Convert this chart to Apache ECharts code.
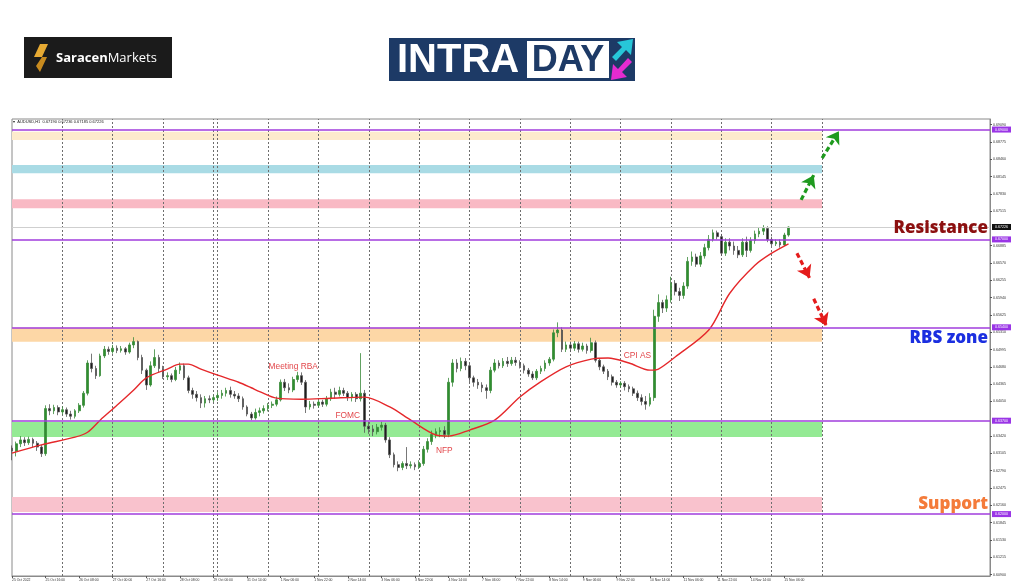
<!DOCTYPE html>
<html><head><meta charset="utf-8">
<script src="https://cdn.jsdelivr.net/npm/echarts@6/dist/echarts.min.js"></script>
<style>html,body{margin:0;padding:0;background:#fff}#c{width:1024px;height:587px}</style>
</head><body><div id="c"></div>
<script>
// ---------- DATA ----------
const dayNames = ['25 Oct','26 Oct','27 Oct','28 Oct','29 Oct','31 Oct','1 Nov','2 Nov','3 Nov','4 Nov',
  '7 Nov','8 Nov','9 Nov','10 Nov','11 Nov','14 Nov','15 Nov','16 Nov','17 Nov','18 Nov','21 Nov'];
const dayBars = [12,12,12,12,1,12,12,12,12,12,12,12,12,12,12,12,12,12,12,12,5];
const hourLabels = ['00:00','02:00','04:00','06:00','08:00','10:00','12:00','14:00','16:00','18:00','20:00','22:00'];
const firstLabel = '25 Oct 2022';
const headerText = '\u25BE  AUDUSD,H1  0.67190 0.67236 0.67185 0.67226';

// [open, close, low, high], 2-hour bars
const candles = [
[.6320,.6315,.6298,.6325],[.6315,.6328,.6305,.6332],[.6328,.6335,.6322,.6342],[.6335,.6330,.6324,.6340],
[.6330,.6336,.6326,.6341],[.6336,.6329,.6322,.6339],[.6329,.6322,.6315,.6333],[.6322,.6310,.6304,.6326],
[.6310,.6392,.6306,.6398],[.6392,.6388,.6380,.6400],[.6388,.6394,.6382,.6399],[.6394,.6386,.6380,.6398],
[.6386,.6390,.6381,.6396],[.6390,.6382,.6377,.6394],[.6382,.6378,.6372,.6388],[.6378,.6388,.6374,.6391],
[.6388,.6398,.6384,.6402],[.6398,.6420,.6394,.6424],[.6420,.6475,.6416,.6480],[.6475,.6465,.6458,.6492],
[.6465,.6452,.6446,.6470],[.6452,.6488,.6450,.6492],[.6488,.6500,.6484,.6506],[.6500,.6496,.6490,.6505],
[.6496,.6502,.6492,.6508],[.6502,.6498,.6493,.6507],[.6498,.6501,.6494,.6506],[.6501,.6495,.6490,.6504],
[.6495,.6508,.6492,.6512],[.6508,.6514,.6502,.6522],[.6514,.6485,.6480,.6516],[.6485,.6462,.6455,.6490],
[.6462,.6435,.6426,.6465],[.6435,.6470,.6432,.6478],[.6470,.6485,.6466,.6500],[.6485,.6465,.6458,.6490],
[.6465,.6450,.6446,.6470],[.6450,.6452,.6444,.6458],[.6452,.6445,.6440,.6456],[.6445,.6462,.6442,.6468],
[.6462,.6470,.6455,.6476],[.6470,.6448,.6444,.6474],[.6448,.6425,.6420,.6452],[.6425,.6418,.6410,.6430],
[.6418,.6412,.6405,.6424],[.6412,.6402,.6393,.6418],[.6402,.6410,.6394,.6415],[.6410,.6408,.6402,.6416],
[.6408,.6412,.6404,.6416],[.6412,.6416,.6406,.6422],[.6416,.6420,.6410,.6426],[.6420,.6425,.6414,.6430],
[.6425,.6418,.6412,.6432],[.6418,.6415,.6410,.6424],[.6415,.6410,.6404,.6420],[.6410,.6395,.6390,.6414],
[.6395,.6382,.6378,.6398],[.6382,.6375,.6371,.6386],[.6375,.6385,.6372,.6392],[.6385,.6388,.6378,.6394],
[.6388,.6392,.6383,.6398],[.6392,.6398,.6387,.6402],[.6398,.6400,.6393,.6405],[.6400,.6408,.6396,.6414],
[.6408,.6440,.6405,.6445],[.6440,.6430,.6424,.6446],[.6430,.6426,.6420,.6438],[.6426,.6445,.6422,.6450],
[.6445,.6452,.6440,.6459],[.6452,.6440,.6435,.6458],[.6440,.6395,.6384,.6444],[.6395,.6400,.6390,.6406],
[.6400,.6398,.6392,.6405],[.6398,.6404,.6394,.6408],[.6404,.6400,.6395,.6408],[.6400,.6410,.6396,.6415],
[.6410,.6422,.6406,.6428],[.6422,.6418,.6410,.6430],[.6418,.6425,.6414,.6432],[.6425,.6420,.6415,.6430],
[.6420,.6412,.6406,.6424],[.6412,.6418,.6405,.6422],[.6418,.6410,.6404,.6422],[.6410,.6420,.6405,.6493],
[.6420,.6360,.6348,.6426],[.6360,.6355,.6346,.6368],[.6355,.6350,.6342,.6362],[.6350,.6358,.6345,.6364],
[.6358,.6362,.6352,.6368],[.6362,.6335,.6330,.6366],[.6335,.6308,.6302,.6340],[.6308,.6290,.6285,.6312],
[.6290,.6285,.6278,.6296],[.6285,.6292,.6280,.6296],[.6292,.6288,.6282,.6322],[.6288,.6290,.6283,.6296],
[.6290,.6286,.6280,.6294],[.6286,.6292,.6282,.6298],[.6292,.6318,.6288,.6324],[.6318,.6332,.6312,.6338],
[.6332,.6345,.6326,.6352],[.6345,.6350,.6338,.6356],[.6350,.6352,.6340,.6358],[.6352,.6345,.6338,.6360],
[.6345,.6440,.6340,.6448],[.6440,.6475,.6432,.6482],[.6475,.6465,.6458,.6482],[.6465,.6478,.6460,.6485],
[.6478,.6470,.6462,.6484],[.6470,.6448,.6440,.6474],[.6448,.6440,.6432,.6452],[.6440,.6435,.6428,.6446],
[.6435,.6430,.6422,.6440],[.6430,.6425,.6410,.6436],[.6425,.6462,.6420,.6468],[.6462,.6475,.6458,.6482],
[.6475,.6470,.6465,.6480],[.6470,.6478,.6466,.6484],[.6478,.6474,.6468,.6486],[.6474,.6480,.6470,.6486],
[.6480,.6476,.6470,.6486],[.6476,.6470,.6465,.6480],[.6470,.6462,.6456,.6474],[.6462,.6455,.6450,.6466],
[.6455,.6448,.6444,.6460],[.6448,.6460,.6444,.6464],[.6460,.6465,.6455,.6470],[.6465,.6475,.6460,.6480],
[.6475,.6482,.6470,.6486],[.6482,.6530,.6478,.6536],[.6530,.6535,.6522,.6549],[.6535,.6500,.6495,.6540],
[.6500,.6508,.6495,.6514],[.6508,.6502,.6495,.6514],[.6502,.6510,.6497,.6515],[.6510,.6500,.6494,.6514],
[.6500,.6506,.6496,.6512],[.6506,.6498,.6492,.6510],[.6498,.6512,.6494,.6521],[.6512,.6480,.6476,.6516],
[.6480,.6468,.6462,.6484],[.6468,.6460,.6455,.6472],[.6460,.6450,.6444,.6464],[.6450,.6440,.6434,.6454],
[.6440,.6435,.6430,.6444],[.6435,.6438,.6430,.6442],[.6438,.6432,.6425,.6442],[.6432,.6428,.6422,.6436],
[.6428,.6420,.6415,.6432],[.6420,.6412,.6406,.6425],[.6412,.6405,.6398,.6418],[.6405,.6400,.6390,.6415],
[.6400,.6412,.6396,.6420],[.6412,.6560,.6406,.6572],[.6560,.6585,.6550,.6600],[.6585,.6575,.6566,.6590],
[.6575,.6590,.6568,.6598],[.6590,.6620,.6585,.6632],[.6620,.6605,.6598,.6626],[.6605,.6598,.6588,.6612],
[.6598,.6615,.6592,.6622],[.6615,.6660,.6610,.6668],[.6660,.6668,.6652,.6678],[.6668,.6655,.6650,.6674],
[.6655,.6670,.6650,.6677],[.6670,.6685,.6665,.6692],[.6685,.6700,.6680,.6708],[.6700,.6712,.6696,.6718],
[.6712,.6705,.6700,.6716],[.6705,.6675,.6670,.6710],[.6675,.6695,.6670,.6702],[.6695,.6688,.6680,.6702],
[.6688,.6680,.6672,.6696],[.6680,.6672,.6666,.6688],[.6672,.6695,.6668,.6702],[.6695,.6680,.6668,.6705],
[.6680,.6698,.6676,.6704],[.6698,.6710,.6692,.6716],[.6710,.6715,.6704,.6722],[.6715,.6720,.6708,.6726],
[.6720,.6700,.6695,.6724],[.6700,.6692,.6688,.6705],[.6692,.6695,.6688,.6700],[.6695,.6690,.6685,.6700],
[.6690,.6708,.6688,.6712],[.6708,.67226,.6705,.67236]
];

// moving average: [bar index, value]
const maPoints = [
[0,.6311],[7,.6326],[15,.6340],[18,.6349],[21,.6371],[25,.6398],[29,.6426],[32,.6448],[37,.6464],
[40,.6473],[42,.6473],[45,.6464],[49,.6453],[54,.6440],[57,.6430],[59,.6423],[63,.6411],[69,.6409],
[76,.6411],[84,.6413],[90,.6395],[95,.6371],[101,.6344],[104,.6342],[109,.6353],[115,.6371],[121,.6413],
[126,.6441],[132,.6468],[138,.6482],[142,.6484],[147,.6475],[152,.6462],[154,.6464],[158,.6486],
[166,.6535],[171,.6602],[177,.6653],[181,.6675],[185,.6692]
];

const levelPrices = [0.69000, 0.67000, 0.65400, 0.63700, 0.62000];
const currentPrice = 0.67226;
const zoneTops    = [0.68962, 0.68355, 0.67731, 0.65390, 0.63677, 0.62310];
const zoneBottoms = [0.68810, 0.68204, 0.67567, 0.65135, 0.63404, 0.62040];
const yTicks = [0.69090,0.68775,0.68460,0.68145,0.67830,0.67515,0.66885,0.66570,0.66255,0.65940,0.65625,
  0.65310,0.64995,0.64680,0.64365,0.64050,0.63420,0.63105,0.62790,0.62475,0.62160,0.61845,0.61530,0.61215,0.60900];
const eventNames = ['Meeting RBA','FOMC','NFP','CPI AS'];
const eventAnchors = [[67,0.6468],[80,0.6380],[103,0.6315],[149,0.6488]];
// projected moves: [fromIndex, fromPrice, toIndex, toPrice]
const upArrows   = [[188,0.6772,191,0.6817],[193,0.6848,197,0.6897]];
const downArrows = [[187,0.6675,190,0.6630],[191,0.6592,194,0.6543]];
const zoneLabels = ['Resistance','RBS zone','Support'];

// ---------- BUILD ----------
const categories = [];
dayNames.forEach((d,k)=>{ for(let h=0;h<dayBars[k];h++) categories.push(d+' '+hourLabels[h]); });
const zoneEnd = categories.indexOf('16 Nov 00:00');
const separators = [];
categories.forEach((c,i)=>{ if(i>0 && i<=zoneEnd && c.endsWith('00:00')) separators.push(i); });
const nBars = candles.length;
const showLbl = (i)=> i % 8 === 0 && i < nBars;

const FONT = '"Liberation Sans", Arial, sans-serif';
const zoneColors = ['#fdebcd','#a9dbe5','#f9b9c4','#fdd7a6','#94ea94','#f9c2cd'];
const arrowStyle = (c)=>({color:c,width:3.2,type:[5,3]});

const chart = echarts.init(document.getElementById('c'), null, {renderer:'canvas'});
const option = {
  animation:false,
  backgroundColor:'#ffffff',
  grid:{left:12,right:34,top:119,bottom:11,show:true,borderColor:'#8a8a8a',borderWidth:1,backgroundColor:'#fff'},
  xAxis:{type:'category',data:categories,boundaryGap:false,
    axisLine:{show:true,lineStyle:{color:'#8a8a8a'}},
    axisTick:{show:true,interval:showLbl,length:2,lineStyle:{color:'#555'}},
    axisLabel:{interval:showLbl,fontSize:3.4,color:'#333',align:'left',margin:3,fontFamily:FONT,
      formatter:(v,i)=> i===0 ? firstLabel : v},
    splitLine:{show:false}},
  yAxis:{type:'value',position:'right',min:0.60873,max:0.69192,
    axisLine:{show:true,lineStyle:{color:'#8a8a8a'}},
    axisTick:{show:true,customValues:yTicks,length:2,lineStyle:{color:'#555'}},
    axisLabel:{customValues:yTicks,formatter:v=>v.toFixed(5),fontSize:3.6,color:'#333',margin:3,fontFamily:FONT},
    splitLine:{show:false}},
  series:[
    {type:'candlestick',name:'AUDUSD',data:candles,barWidth:2.2,z:3,
      itemStyle:{color:'#2f8f2f',color0:'#1e1e1e',borderColor:'#3a8a3a',borderColor0:'#555',borderWidth:0.8},
      markArea:{silent:true,z:1,
        data:zoneTops.map((t,k)=>[{yAxis:t,xAxis:0,itemStyle:{color:zoneColors[k],opacity:1}},{yAxis:zoneBottoms[k],xAxis:zoneEnd}])},
      markLine:{silent:true,z:5,precision:5,symbol:['none','none'],
        lineStyle:{color:'#a03cdc',width:1.5,type:'solid'},
        label:{show:true,position:'end',distance:2,formatter:p=>Number(p.value).toFixed(5),color:'#fff',
          backgroundColor:'#9a35e6',fontSize:3.6,padding:[1,3],fontFamily:FONT},
        data:[{yAxis:currentPrice,lineStyle:{color:'#cfcfcf',width:1},label:{backgroundColor:'#111'}}]
          .concat(levelPrices.map(v=>({yAxis:v})))}
    },
    {type:'line',name:'MA',data:maPoints,symbol:'none',smooth:0.3,z:4,
      lineStyle:{color:'#e5282b',width:1.4},
      markLine:{silent:true,z:2,precision:5,symbol:['none','none'],label:{show:false},
        lineStyle:{color:'#6e6e6e',type:[2,2],width:1},
        data:separators.map(i=>({xAxis:i}))},
      markPoint:{silent:true,z:6,symbol:'circle',symbolSize:1,itemStyle:{color:'rgba(0,0,0,0)'},
        label:{show:true,position:'inside',formatter:p=>p.name,color:'#e2474b',fontSize:8.4,fontFamily:FONT},
        data:eventNames.map((n,k)=>({name:n,coord:eventAnchors[k]}))}
    },
    {type:'line',name:'arrows',data:[],z:6,
      markLine:{silent:true,z:7,precision:5,symbol:['none','arrow'],symbolSize:12,label:{show:false},
        data:upArrows.map(a=>[{coord:[a[0],a[1]],lineStyle:arrowStyle('#1e9a1e'),itemStyle:{color:'#1e9a1e'}},{coord:[a[2],a[3]],lineStyle:arrowStyle('#1e9a1e'),itemStyle:{color:'#1e9a1e'}}])
          .concat(downArrows.map(a=>[{coord:[a[0],a[1]],lineStyle:arrowStyle('#e41b1b'),itemStyle:{color:'#e41b1b'}},{coord:[a[2],a[3]],lineStyle:arrowStyle('#e41b1b'),itemStyle:{color:'#e41b1b'}}]))}
    }
  ],
  graphic:{elements:[
    // Saracen Markets logo
    {type:'rect',z:100,shape:{x:24,y:37,width:148,height:41},style:{fill:'#1b1b1b'}},
    {type:'polygon',z:101,shape:{points:[[40,44],[48,44],[42,57],[34,57]]},style:{fill:'#e6aa33'}},
    {type:'polygon',z:101,shape:{points:[[42,57],[47,57],[40,72],[36,66]]},style:{fill:'#c88b1f'}},
    {type:'text',z:101,style:{x:56,y:58,verticalAlign:'middle',text:'{a|Saracen}{b|Markets}',
      rich:{a:{fill:'#fff',fontSize:13,fontWeight:'bold',fontFamily:'"Open Sans"'},b:{fill:'#fff',fontSize:13,fontFamily:'"Open Sans"'}}}},
    // INTRADAY logo
    {type:'rect',z:100,shape:{x:389,y:38,width:246,height:43},style:{fill:'#1d3a66'}},
    {type:'text',z:101,style:{x:397,y:61,verticalAlign:'middle',text:'INTRA',fill:'#fff',font:'bold 40px "Liberation Sans"'}},
    {type:'rect',z:101,shape:{x:527,y:41,width:82,height:37},style:{fill:'#fff'}},
    {type:'text',z:102,style:{x:568,y:61,align:'center',verticalAlign:'middle',text:'DAY',fill:'#1d3a66',font:'bold 36px "Liberation Sans"'}},
    {type:'polygon',z:101,shape:{points:[[612,57],[622,47],[617,42],[633,39],[631,55],[626,50],[616,61]]},style:{fill:'#27c6d8'}},
    {type:'polygon',z:101,shape:{points:[[632,62],[622,72],[627,77],[611,80],[613,64],[618,69],[628,58]]},style:{fill:'#e52bd0'}},
    // chart header
    {type:'text',z:100,style:{x:13,y:122,verticalAlign:'middle',text:headerText,fill:'#222',fontSize:4,fontFamily:FONT}},
    // zone labels
    {type:'text',z:100,style:{x:988,y:228,align:'right',verticalAlign:'middle',text:zoneLabels[0],fill:'#8c1010',fontSize:17,fontWeight:800,fontFamily:'"Open Sans"'}},
    {type:'text',z:100,style:{x:988,y:338,align:'right',verticalAlign:'middle',text:zoneLabels[1],fill:'#1b2fe0',fontSize:17,fontWeight:800,fontFamily:'"Open Sans"'}},
    {type:'text',z:100,style:{x:988,y:504,align:'right',verticalAlign:'middle',text:zoneLabels[2],fill:'#f47b3a',fontSize:17,fontWeight:800,fontFamily:'"Open Sans"'}}
  ]}
};
chart.setOption(option);
</script>
</body></html>
